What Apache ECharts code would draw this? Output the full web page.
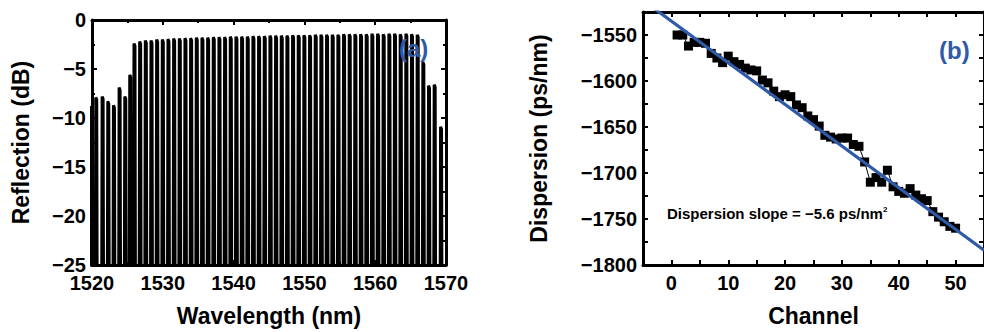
<!DOCTYPE html>
<html><head><meta charset="utf-8">
<script src="https://cdn.jsdelivr.net/npm/echarts@6/dist/echarts.min.js"></script>
<style>html,body{margin:0;padding:0;background:#fff}#c{width:984px;height:332px}</style>
</head><body><div id="c"></div>
<script>
// ---- Panel (a): reflection spectrum, read peak by peak ----
const leftLobeWl = [1519.8, 1520.6, 1521.5, 1522.3, 1523.1, 1523.9, 1524.7, 1525.4];
const leftLobeDb = [-8.8, -7.9, -7.8, -8.3, -8.7, -6.9, -7.8, -5.6];
const channelWl = [1526.0, 1526.8, 1527.6, 1528.4, 1529.2, 1530.0, 1530.8, 1531.6, 1532.4, 1533.2,
  1534.0, 1534.8, 1535.6, 1536.4, 1537.2, 1538.0, 1538.8, 1539.6, 1540.4, 1541.2,
  1542.0, 1542.8, 1543.6, 1544.4, 1545.2, 1546.0, 1546.8, 1547.6, 1548.4, 1549.2,
  1550.0, 1550.8, 1551.6, 1552.4, 1553.2, 1554.0, 1554.8, 1555.6, 1556.4, 1557.2,
  1558.0, 1558.8, 1559.6, 1560.4, 1561.2, 1562.0, 1562.8, 1563.6, 1564.4, 1565.2, 1566.0];
const channelPeakDb = [-2.4, -2.2, -2.1, -2.1, -2.0, -2.0, -1.95, -1.9, -1.9, -1.85,
  -1.85, -1.8, -1.8, -1.8, -1.75, -1.75, -1.75, -1.7, -1.7, -1.7,
  -1.7, -1.65, -1.65, -1.65, -1.6, -1.6, -1.6, -1.6, -1.55, -1.55,
  -1.55, -1.55, -1.5, -1.5, -1.5, -1.5, -1.5, -1.45, -1.45, -1.45,
  -1.45, -1.45, -1.4, -1.4, -1.45, -1.4, -1.4, -1.45, -1.4, -1.45, -1.5];
const rightLobeWl = [1566.8, 1567.6, 1568.4, 1569.3];
const rightLobeDb = [-4.3, -6.7, -6.6, -10.9];
const dipFloorDb = -40;   // notches between channels fall below the -25 dB floor
const wlTickLabels = [1520, 1530, 1540, 1550, 1560, 1570];
const dbTickLabels = [-25, -20, -15, -10, -5, 0];

// ---- Panel (b): dispersion per channel ----
const channels = [1,2,3,4,5,6,7,8,9,10,11,12,13,14,15,16,17,18,19,20,21,22,23,24,25,
  26,27,28,29,30,31,32,33,34,35,36,37,38,39,40,41,42,43,44,45,46,47,48,49,50];
const dispersion = [-1550, -1550, -1562, -1558, -1558, -1559, -1570, -1575, -1580, -1573,
  -1579, -1582, -1586, -1588, -1589, -1599, -1602, -1611, -1617, -1615,
  -1617, -1626, -1629, -1638, -1642, -1649, -1659, -1661, -1663, -1662,
  -1662, -1669, -1671, -1688, -1710, -1705, -1710, -1697, -1715, -1720,
  -1722, -1717, -1724, -1728, -1730, -1742, -1748, -1753, -1758, -1760];
const fitChannels = [-5, 55];
const fitDispersion = [-1512.3, -1783.9];
const chTickLabels = [0, 10, 20, 30, 40, 50];
const dispTickLabels = [-1800, -1750, -1700, -1650, -1600, -1550];

// ---- build line data for the comb spectrum ----
const peakWl = leftLobeWl.concat(channelWl, rightLobeWl);
const peakDb = leftLobeDb.concat(channelPeakDb, rightLobeDb);
const spectrum = [];
peakWl.forEach((w, i) => {
  const p = peakDb[i];
  spectrum.push([w - 0.17, dipFloorDb], [w - 0.07, p], [w + 0.07, p - 0.25], [w + 0.17, dipFloorDb]);
});

const FONT = "'Liberation Sans', Arial, sans-serif";
const minus = v => String(v).replace('-', '\u2212');
const lineStyle = { color: '#000', width: 3 };
const tickStyle = { color: '#000', width: 2 };
const labelBase = { color: '#000', fontFamily: FONT, fontWeight: 'bold', fontSize: 20, formatter: v => minus(v) };

function ax(grid, pos, min, max, interval, labelValues, margin, extra) {
  return Object.assign({
    type: 'value', gridIndex: grid, position: pos, min, max, interval,
    axisLine: { show: true, onZero: false, lineStyle },
    axisTick: { show: true, inside: true, length: 5, lineStyle: tickStyle },
    splitLine: { show: false },
    axisLabel: labelValues ? Object.assign({ show: true, margin, customValues: labelValues }, labelBase) : { show: false }
  }, extra || {});
}
const titleStyle = { color: '#000', fontFamily: FONT, fontWeight: 'bold', fontSize: 23 };
const minor = { minorTick: { show: true, splitNumber: 2, length: 3, lineStyle: tickStyle } };

const option = {
  animation: false,
  backgroundColor: '#fff',
  grid: [
    { left: 92, top: 20, width: 354, height: 247 },
    { left: 643, top: 12, width: 345, height: 255 }
  ],
  xAxis: [
    ax(0, 'bottom', 1520, 1570, 10, wlTickLabels, 8, Object.assign({
      name: 'Wavelength (nm)', nameLocation: 'middle', nameGap: 39, nameTextStyle: titleStyle }, minor)),
    ax(0, 'top', 1520, 1570, 10, null, 0, minor),
    ax(1, 'bottom', -5, 55, 5, chTickLabels, 8, {
      name: 'Channel', nameLocation: 'middle', nameGap: 39, nameTextStyle: titleStyle }),
    ax(1, 'top', -5, 55, 5, null, 0)
  ],
  yAxis: [
    ax(0, 'left', -25, 0, 5, dbTickLabels, 6, Object.assign({
      name: 'Reflection (dB)', nameLocation: 'middle', nameGap: 60, nameRotate: 90, nameTextStyle: titleStyle }, minor)),
    ax(0, 'right', -25, 0, 5, null, 0, minor),
    ax(1, 'left', -1800, -1525, 25, dispTickLabels, 6, {
      name: 'Dispersion (ps/nm)', nameLocation: 'middle', nameGap: 93, nameRotate: 90, nameTextStyle: titleStyle }),
    ax(1, 'right', -1800, -1525, 25, null, 0)
  ],
  series: [
    { type: 'line', xAxisIndex: 0, yAxisIndex: 0, data: spectrum, symbol: 'none', clip: true,
      lineStyle: { color: '#000', width: 3 }, z: 2 },
    { type: 'line', xAxisIndex: 2, yAxisIndex: 2, data: channels.map((c, i) => [c, dispersion[i]]),
      symbol: 'rect', symbolSize: 9, itemStyle: { color: '#000' }, lineStyle: { color: '#000', width: 1 }, z: 2 },
    { type: 'line', xAxisIndex: 2, yAxisIndex: 2, data: fitChannels.map((c, i) => [c, fitDispersion[i]]),
      symbol: 'none', clip: true, lineStyle: { color: '#2f5aa8', width: 3.2 }, z: 3 }
  ],
  graphic: [
    { type: 'text', left: 399, top: 36, z: 10, style: { text: '(a)', fill: '#2f5aa8', font: "bold 24px 'Liberation Sans', Arial, sans-serif" } },
    { type: 'text', left: 939, top: 38, z: 10, style: { text: '(b)', fill: '#2f5aa8', font: "bold 24px 'Liberation Sans', Arial, sans-serif" } },
    { type: 'text', left: 667, top: 205, z: 10, style: {
        text: 'Dispersion slope = \u22125.6 ps/nm{s|2}',
        font: "bold 15px 'Liberation Sans', Arial, sans-serif", fill: '#000',
        rich: { s: { fontSize: 8, fontWeight: 'bold', verticalAlign: 'top', padding: [0, 0, 8, 0], fontFamily: FONT } } } }
  ]
};
const chart = echarts.init(document.getElementById('c'), null, { renderer: 'svg' });
chart.setOption(option);
</script></body></html>
